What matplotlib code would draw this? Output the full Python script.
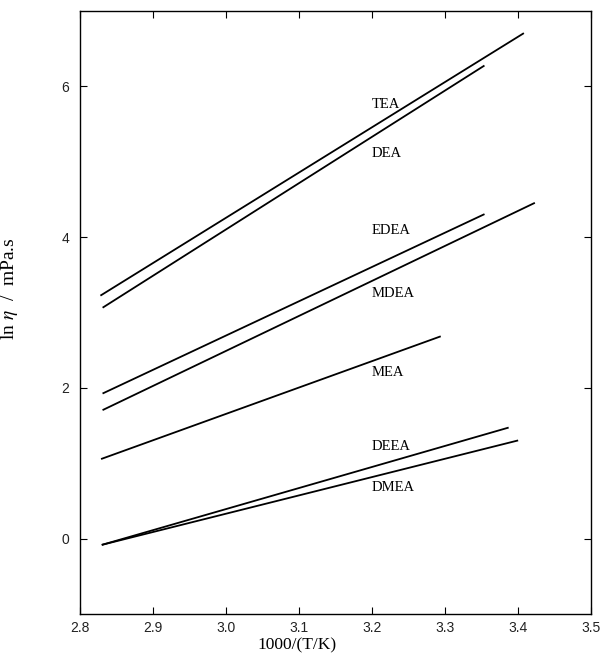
import matplotlib
matplotlib.use("Agg")
import matplotlib.pyplot as plt

plt.rcParams["mathtext.fontset"] = "stix"

# Data: endpoints of the fitted lines (x = 1000/(T/K), y = ln eta)
names = ["TEA", "DEA", "EDEA", "MDEA", "MEA", "DEEA", "DMEA"]
x_start = [2.829, 2.832, 2.832, 2.832, 2.830, 2.831, 2.831]
y_start = [3.23, 3.07, 1.93, 1.71, 1.06, -0.08, -0.08]
x_end = [3.407, 3.353, 3.353, 3.422, 3.293, 3.386, 3.399]
y_end = [6.70, 6.27, 4.30, 4.45, 2.68, 1.47, 1.30]

label_x = [3.2, 3.2, 3.2, 3.2, 3.2, 3.2, 3.2]
label_y = [5.76, 5.11, 4.09, 3.25, 2.20, 1.22, 0.68]

xticks = [2.8, 2.9, 3.0, 3.1, 3.2, 3.3, 3.4, 3.5]
yticks = [0, 2, 4, 6]

fig = plt.figure(figsize=(6.01, 6.55), dpi=100)
ax = fig.add_axes([80/601, 41/655, 511/601, 603/655])

for xs, ys, xe, ye in zip(x_start, y_start, x_end, y_end):
    ax.plot([xs, xe], [ys, ye], color="black", lw=1.3)

for n, lx, ly in zip(names, label_x, label_y):
    ax.text(lx, ly, n, fontsize=10.5, family="Liberation Serif",
            ha="left", va="center")

ax.set_xlim(2.8, 3.5)
ax.set_ylim(-1, 7)
ax.set_xticks(xticks)
ax.set_yticks(yticks)
ax.set_xticklabels([f"{v:.1f}" for v in xticks], family="Liberation Sans",
                   fontsize=10, color="#222222")
ax.set_yticklabels([str(v) for v in yticks], family="Liberation Sans",
                   fontsize=10, color="#222222")
ax.tick_params(direction="in", top=True, right=True, length=5, width=0.8, pad=8)
ax.tick_params(axis="x", pad=5)
for s in ax.spines.values():
    s.set_linewidth(1.0)

ax.set_xlabel("1000/(T/K)", family="Liberation Serif", fontsize=12.5)
ax.xaxis.set_label_coords(0.425, -0.039)
ax.set_ylabel("ln $\\eta$  /  mPa.s", family="Liberation Serif", fontsize=14)
ax.yaxis.set_label_coords(-0.117, 0.539)

fig.savefig("out.png", dpi=100)
